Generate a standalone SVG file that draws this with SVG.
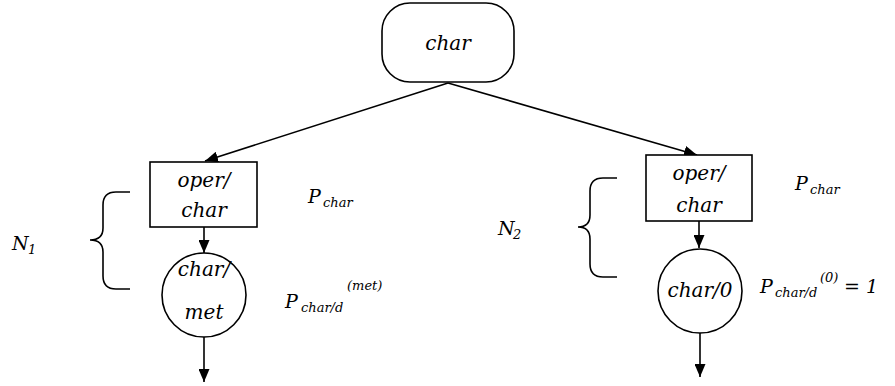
<svg xmlns="http://www.w3.org/2000/svg" width="895" height="386" viewBox="0 0 895 386">
<defs>
<marker id="ah" viewBox="0 0 13 11" refX="13" refY="5.5" markerWidth="13" markerHeight="11" markerUnits="userSpaceOnUse" orient="auto">
<path d="M0,0 L13,5.5 L0,11 z" fill="#000"/>
</marker>
</defs>
<style>
.s{fill:#fff;stroke:#000;stroke-width:1.6}
.c{fill:none;stroke:#000;stroke-width:1.6}
text{font-family:"DejaVu Serif","Liberation Serif",serif;font-style:italic;fill:#000}
.t{font-size:20px}
.m{text-anchor:middle}
.l{font-size:19px}
.sub{font-size:13px}
</style>
<g id="connectors">
<line class="c" x1="448" y1="83" x2="205" y2="161" marker-end="url(#ah)"/>
<line class="c" x1="448" y1="83" x2="697" y2="155" marker-end="url(#ah)"/>
<line class="c" x1="204" y1="227" x2="204" y2="253" marker-end="url(#ah)"/>
<line class="c" x1="699" y1="221" x2="699" y2="248" marker-end="url(#ah)"/>
<line class="c" x1="204" y1="337" x2="204" y2="382" marker-end="url(#ah)"/>
<line class="c" x1="700" y1="333" x2="700" y2="377" marker-end="url(#ah)"/>
</g>
<g id="root">
<rect class="s" x="382" y="3" width="132" height="79" rx="28" ry="28"/>
<text class="t m" x="448" y="50">char</text>
</g>
<g id="op1">
<rect class="s" x="150" y="162" width="107" height="65"/>
<text class="t m" x="204" y="187">oper/</text>
<text class="t m" x="204" y="217">char</text>
</g>
<g id="cm1">
<circle class="s" cx="204" cy="295" r="42"/>
<text class="t m" x="204" y="276">char/</text>
<text class="t m" x="204" y="319">met</text>
</g>
<g id="op2">
<rect class="s" x="646" y="155" width="106" height="66"/>
<text class="t m" x="699" y="180">oper/</text>
<text class="t m" x="699" y="212">char</text>
</g>
<g id="cm2">
<circle class="s" cx="700" cy="291" r="42"/>
<text class="t m" x="700" y="297">char/0</text>
</g>
<g id="labels">
<text class="l" x="308" y="203">P<tspan class="sub" x="323" y="207">char</tspan></text>
<text class="l" x="795" y="190">P<tspan class="sub" x="810" y="194">char</tspan></text>
<text class="l" x="285" y="308">P<tspan class="sub" x="301" y="312">char/d</tspan><tspan class="sub" x="347" y="290">(met)</tspan></text>
<text class="l" x="760" y="293">P<tspan class="sub" x="775" y="297">char/d</tspan><tspan class="sub" x="820" y="282">(0)</tspan><tspan x="844" y="293">= 1</tspan></text>
<text class="l" x="12" y="250">N<tspan class="sub" x="28" y="254">1</tspan></text>
<text class="l" x="498" y="235">N<tspan class="sub" x="513" y="239">2</tspan></text>
</g>
<g id="braces">
<path class="c" d="M130,192 H116 Q103,192 103,205 V228 Q103,240 90,240 Q103,240 103,252 V276 Q103,289 116,289 H130"/>
<path class="c" d="M617,178 H603 Q590,178 590,191 V215 Q590,227 578,227 Q590,227 590,239 V264 Q590,277 603,277 H617"/>
</g>
</svg>
